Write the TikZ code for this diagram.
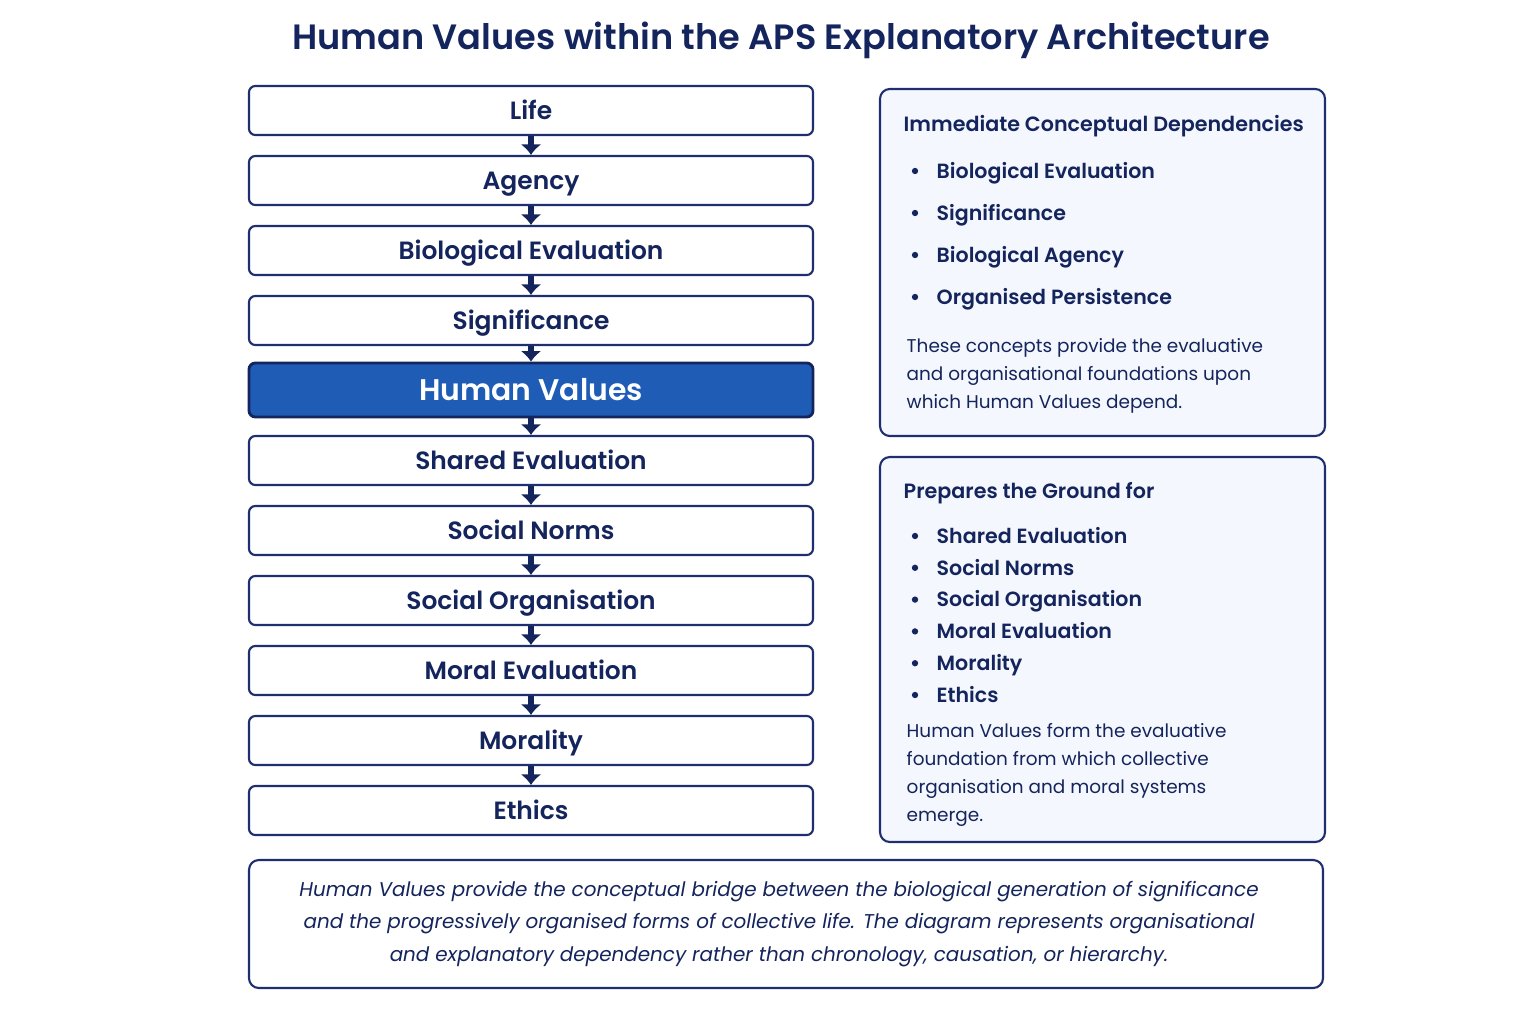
\documentclass[tikz,border=0pt]{standalone}
\usepackage{fontspec}
\setmainfont{Poppins}[BoldFont={Poppins SemiBold},BoldItalicFont={Poppins SemiBold Italic}]
\usetikzlibrary{arrows.meta}
\definecolor{navy}{RGB}{20,36,92}
\definecolor{edgeblue}{RGB}{30,46,112}
\definecolor{hvblue}{RGB}{30,92,182}
\definecolor{panelfill}{RGB}{244,247,253}

\begin{document}
\begin{tikzpicture}[
	conceptbox/.style={draw=edgeblue, line width=0.6pt, rounded corners=1.8pt, fill=white, minimum width=5.64cm, minimum height=0.49cm, inner sep=0pt, text=navy, text height=5pt, text depth=0pt, font=\fontsize{7.1}{9}\selectfont\bfseries},
	hvbox/.style={conceptbox, fill=hvblue, draw=navy, line width=0.8pt, minimum height=0.54cm, text=white, text height=6pt, font=\fontsize{8.5}{11}\selectfont\bfseries},
	flowarrow/.style={navy, line width=1.6pt, -{Latex[length=3pt,width=6pt]}},
	panel/.style={draw=edgeblue, line width=0.6pt, rounded corners=2.8pt, fill=panelfill, inner sep=0pt},
	heading/.style={anchor=west, inner sep=0pt, text=navy, text height=4.1pt, text depth=0pt, font=\fontsize{5.88}{8}\selectfont\bfseries},
	itemtext/.style={anchor=west, inner sep=0pt, text=navy, text height=4.1pt, text depth=0pt, font=\fontsize{5.85}{8}\selectfont\bfseries},
	dot/.style={circle, fill=navy, minimum size=1.8pt, inner sep=0pt},
	bodytext/.style={anchor=west, align=left, inner sep=0pt, text=navy, font=\fontsize{5.25}{7.9}\selectfont}
]
	\useasboundingbox (0,0) rectangle (15.36,10.24);
	\node [text=navy, font=\fontsize{10}{12}\selectfont\bfseries] (title) at (7.81,9.84) {Human Values within the APS Explanatory Architecture};
	\foreach \lab/\i in {Life/1,Agency/2,Biological Evaluation/3,Significance/4,Shared Evaluation/6,Social Norms/7,Social Organisation/8,Moral Evaluation/9,Morality/10,Ethics/11}
	\node [conceptbox] (c\i) at (5.31,{9.135 - 0.7*(\i-1)}) {\lab};
	\node [hvbox] (c5) at (5.31,6.34) {Human Values};
	\foreach \i in {1,...,10} {
		\pgfmathtruncatemacro\j{\i+1}
		\draw [flowarrow] (c\i.south) -- (c\j.north);
	}
	\node [panel, minimum width=4.45cm, minimum height=3.47cm] (deps) at (11.025,7.615) {};
	\node [heading] (depshead) at (9.03,9.00) {Immediate Conceptual Dependencies};
	\foreach \lab [count=\k] in {Biological Evaluation,Significance,Biological Agency,Organised Persistence} {
		\node [dot] (dd\k) at (9.15,{8.53 - 0.42*(\k-1)}) {};
		\node [itemtext] (di\k) at (9.36,{8.53 - 0.42*(\k-1)}) {\lab};
	}
	\node [bodytext] (depsnote) at (9.06,6.48) {These concepts provide the evaluative\\and organisational foundations upon\\which Human Values depend.};
	\node [panel, minimum width=4.45cm, minimum height=3.85cm] (prep) at (11.025,3.745) {};
	\node [heading] (prephead) at (9.03,5.33) {Prepares the Ground for};
	\foreach \lab [count=\k] in {Shared Evaluation,Social Norms,Social Organisation,Moral Evaluation,Morality,Ethics} {
		\node [dot] (pd\k) at (9.15,{4.88 - 0.318*(\k-1)}) {};
		\node [itemtext] (pi\k) at (9.36,{4.88 - 0.318*(\k-1)}) {\lab};
	}
	\node [bodytext] (prepnote) at (9.06,2.49) {Human Values form the evaluative\\foundation from which collective\\organisation and moral systems\\emerge.};
	\node [panel, fill=white, minimum width=10.74cm, minimum height=1.28cm] (frame) at (7.86,1.00) {};
	\node [align=center, inner sep=0pt, text=navy, font=\fontsize{5.67}{9.25}\selectfont\itshape] (note) at (7.79,1.00) {Human Values provide the conceptual bridge between the biological generation of significance\\and the progressively organised forms of collective life. The diagram represents organisational\\and explanatory dependency rather than chronology, causation, or hierarchy.};
\end{tikzpicture}
\end{document}
